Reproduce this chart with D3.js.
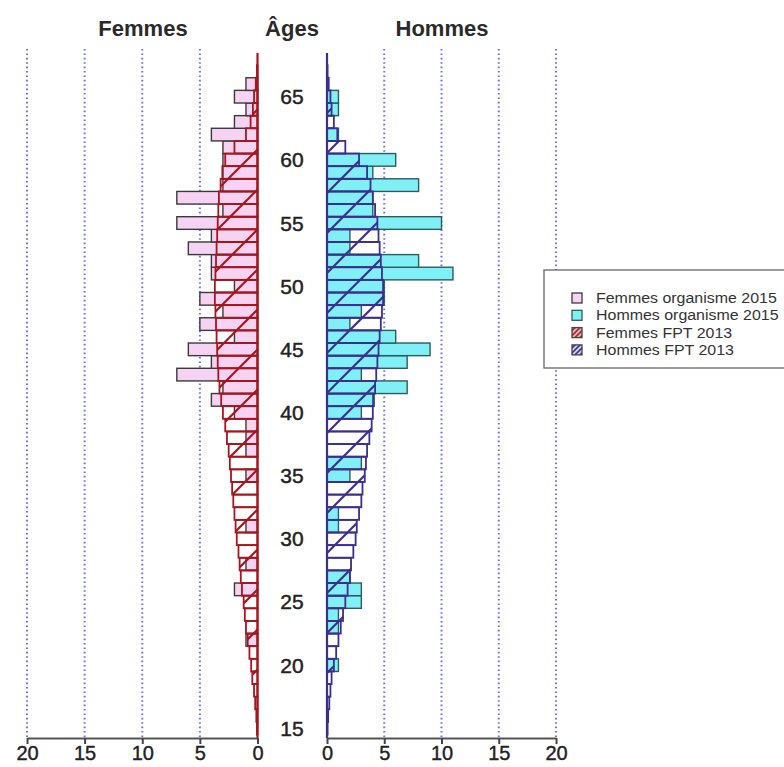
<!DOCTYPE html>
<html><head><meta charset="utf-8">
<script src="https://cdn.jsdelivr.net/npm/d3@7/dist/d3.min.js"></script>
<style>
body{margin:0;background:#fff}
svg{display:block}
text{font-family:"Liberation Sans",Arial,Helvetica,sans-serif}
</style>
</head><body>
<svg id="c" width="784" height="767"></svg>
<script>
// ---- data (ages 15..67) ----
const ages = [15,16,17,18,19,20,21,22,23,24,25,26,27,28,29,30,31,32,33,34,35,36,37,38,39,40,41,42,43,44,45,46,47,48,49,50,51,52,53,54,55,56,57,58,59,60,61,62,63,64,65,66,67];
const femmesOrganisme2015 = [0,0,0,0,0,0,0,1,0,0,0,2,0,1,0,0,1,0,0,0,1,0,1,1,1,2,4,3,7,4,6,2,5,3,5,2,4,4,6,4,7,3,7,3,3,3,3,4,2,1,2,1,0];
const hommesOrganisme2015 = [0,0,0,0,0,1,0,0,1,1,3,3,2,0,0,0,1,1,0,0,2,3,0,0,0,3,4,7,3,7,9,6,2,3,5,5,11,8,2,2,10,4,4,8,4,6,0,1,0,1,1,0,0];
const femmesFPT2013 = [0.05,0.1,0.2,0.3,0.45,0.55,0.7,0.85,1.0,1.1,1.2,1.35,1.45,1.55,1.65,1.8,1.9,2.0,2.1,2.2,2.3,2.4,2.5,2.65,2.8,3.0,3.15,3.3,3.4,3.45,3.5,3.55,3.6,3.65,3.7,3.7,3.65,3.6,3.55,3.5,3.45,3.4,3.35,3.2,3.05,2.8,2.0,1.0,0.6,0.4,0.3,0.15,0.05];
const hommesFPT2013 = [0.05,0.1,0.2,0.3,0.4,0.6,0.8,1.0,1.2,1.4,1.6,1.8,2.0,2.1,2.3,2.5,2.6,2.8,3.0,3.1,3.3,3.4,3.5,3.7,3.9,4.0,4.1,4.2,4.3,4.4,4.5,4.6,4.7,4.8,4.9,4.9,4.8,4.7,4.6,4.5,4.4,4.2,4.0,3.8,3.5,2.8,1.6,0.9,0.6,0.4,0.3,0.15,0.05];
const xTickValues = [0,5,10,15,20];
const ageTickValues = [15,20,25,30,35,40,45,50,55,60,65];
const titles = ["Femmes","Âges","Hommes"];
const legendLabels = ["Femmes organisme 2015","Hommes organisme 2015","Femmes FPT 2013","Hommes FPT 2013"];

// ---- style ----
const pinkFill = "#f7d3f3", pinkStroke = "#3a3a3a";
const cyanFill = "#80f0f6", cyanStroke = "#2a5c60";
const redC = "#a5161f", blueC = "#3b2e8e";
const gridC = "#6f6ff2";

const svg = d3.select("#c");
const y = d3.scaleLinear().domain([15,65]).range([728.3,96.7]);
const bh = Math.abs(y(16)-y(15));
const xL = d3.scaleLinear().domain([0,20]).range([257.5,27]);
const xR = d3.scaleLinear().domain([0,20]).range([327,556]);
const plotTop = 49, axisY = 738;

// hatch patterns
const defs = svg.append("defs");
function hatch(id, color, off){
  const p = defs.append("pattern").attr("id",id).attr("patternUnits","userSpaceOnUse")
    .attr("width",40).attr("height",40).attr("x",off).attr("y",0);
  [[0,40,40,0],[-10,10,10,-10],[30,50,50,30]].forEach(s=>{
    p.append("line").attr("x1",s[0]).attr("y1",s[1]).attr("x2",s[2]).attr("y2",s[3])
     .attr("stroke",color).attr("stroke-width",2.2);
  });
}
hatch("hF", redC, 7);
hatch("hH", blueC, 0);
function hatchSmall(id,color){
  const p = defs.append("pattern").attr("id",id).attr("patternUnits","userSpaceOnUse")
    .attr("width",5).attr("height",5);
  [[0,5,5,0],[-1,1,1,-1],[4,6,6,4]].forEach(s=>{
    p.append("line").attr("x1",s[0]).attr("y1",s[1]).attr("x2",s[2]).attr("y2",s[3])
     .attr("stroke",color).attr("stroke-width",1.6);
  });
}
hatchSmall("lF", redC);
hatchSmall("lH", blueC);

// grid lines
const gridVals = xTickValues.filter(v=>v>0);
[xL,xR].forEach(sc=>{
  svg.append("g").selectAll("line").data(gridVals).join("line")
    .attr("x1",d=>sc(d)).attr("x2",d=>sc(d)).attr("y1",plotTop).attr("y2",axisY)
    .attr("stroke",gridC).attr("stroke-width",2).attr("stroke-dasharray","1.6,2.8");
});

const data = ages.map((a,i)=>({a, fo:femmesOrganisme2015[i], ho:hommesOrganisme2015[i], ff:femmesFPT2013[i], hf:hommesFPT2013[i]}));

// organisme bars
svg.append("g").selectAll("rect").data(data.filter(d=>d.fo>0)).join("rect")
  .attr("x",d=>xL(d.fo)).attr("width",d=>xL(0)-xL(d.fo))
  .attr("y",d=>y(d.a)-bh/2).attr("height",bh)
  .attr("fill",pinkFill).attr("stroke",pinkStroke).attr("stroke-width",1.4);
svg.append("g").selectAll("rect").data(data.filter(d=>d.ho>0)).join("rect")
  .attr("x",xR(0)).attr("width",d=>xR(d.ho)-xR(0))
  .attr("y",d=>y(d.a)-bh/2).attr("height",bh)
  .attr("fill",cyanFill).attr("stroke",cyanStroke).attr("stroke-width",1.4);

// FPT bars (hatched)
svg.append("g").selectAll("rect").data(data).join("rect")
  .attr("x",d=>xL(d.ff)).attr("width",d=>xL(0)-xL(d.ff))
  .attr("y",d=>y(d.a)-bh/2).attr("height",bh)
  .attr("fill","url(#hF)").attr("stroke",redC).attr("stroke-width",1.8);
svg.append("g").selectAll("rect").data(data).join("rect")
  .attr("x",xR(0)).attr("width",d=>xR(d.hf)-xR(0))
  .attr("y",d=>y(d.a)-bh/2).attr("height",bh)
  .attr("fill","url(#hH)").attr("stroke",blueC).attr("stroke-width",1.8);

// zero lines
svg.append("line").attr("x1",xL(0)).attr("x2",xL(0)).attr("y1",plotTop+4).attr("y2",axisY)
  .attr("stroke",redC).attr("stroke-width",2.2);
svg.append("line").attr("x1",xR(0)).attr("x2",xR(0)).attr("y1",plotTop+4).attr("y2",axisY)
  .attr("stroke",blueC).attr("stroke-width",2.2);

// x axes
function styleAxis(g){
  g.select(".domain").attr("stroke","#555").attr("stroke-width",2);
  g.selectAll(".tick line").attr("stroke","#444").attr("stroke-width",2);
  g.selectAll(".tick text").attr("fill","#222").attr("font-size",20)
   .attr("stroke","#222").attr("stroke-width",0.4)
   .attr("font-family","'Liberation Sans',Arial,sans-serif").attr("dy","0.72em").attr("y",8);
}
svg.append("g").attr("transform",`translate(0,${axisY})`)
  .call(d3.axisBottom(xL).tickValues(xTickValues).tickSize(6).tickSizeOuter(0).tickFormat(d3.format("d")))
  .call(styleAxis);
svg.append("g").attr("transform",`translate(0,${axisY})`)
  .call(d3.axisBottom(xR).tickValues(xTickValues).tickSize(6).tickSizeOuter(0).tickFormat(d3.format("d")))
  .call(styleAxis);

// age labels
svg.append("g").selectAll("text").data(ageTickValues).join("text")
  .attr("x",292).attr("y",d=>y(d)+7.5).attr("text-anchor","middle")
  .attr("font-size",21).attr("fill","#222").attr("stroke","#222").attr("stroke-width",0.45).text(d=>d);

// titles
const titleX = [143,292,442];
svg.append("g").selectAll("text").data(titles).join("text")
  .attr("x",(d,i)=>titleX[i]).attr("y",36).attr("text-anchor","middle")
  .attr("font-size",22).attr("font-weight","bold").attr("fill","#2a2a2a").text(d=>d);

// legend
const lg = svg.append("g");
lg.append("rect").attr("x",544).attr("y",270).attr("width",260).attr("height",98)
  .attr("fill","#fff").attr("stroke","#666").attr("stroke-width",1.3);
const keyFill = [pinkFill,cyanFill,"url(#lF)","url(#lH)"];
const keyStroke = [pinkStroke,cyanStroke,"#444","#444"];
const keyBg = [null,null,"#f3c8c8","#d8d8f0"];
lg.selectAll("g.k").data(legendLabels).join("g").attr("class","k")
  .attr("transform",(d,i)=>`translate(0,${298+i*17.3})`)
  .each(function(d,i){
    const g = d3.select(this);
    if(keyBg[i]) g.append("rect").attr("x",572).attr("y",-5).attr("width",10).attr("height",10).attr("fill",keyBg[i]);
    g.append("rect").attr("x",572).attr("y",-5).attr("width",10).attr("height",10)
      .attr("fill",keyFill[i]).attr("stroke",keyStroke[i]).attr("stroke-width",1.3);
    g.append("text").attr("transform","translate(596,5) scale(1.1,1)").attr("font-size",14.5).attr("fill","#333").text(d);
  });
</script>
</body></html>
